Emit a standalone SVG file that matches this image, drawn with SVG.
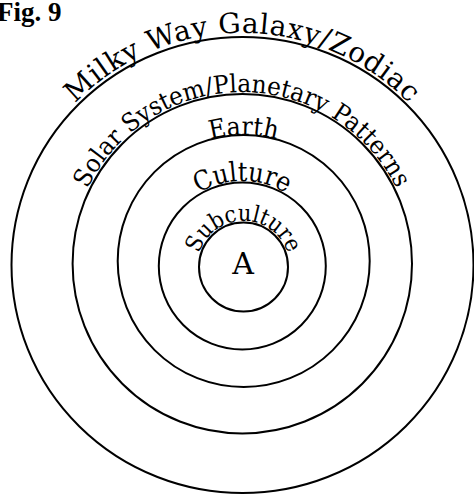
<svg xmlns="http://www.w3.org/2000/svg" xmlns:xlink="http://www.w3.org/1999/xlink" width="474" height="495" viewBox="0 0 474 495">
  <style>
    .ring { fill: none; stroke: #000; stroke-width: 2; }
    .lbl { font-family: "DejaVu Serif", "Liberation Serif", serif; fill: #000; }
    .title { font-family: "Liberation Serif", "Times New Roman", serif; font-weight: bold; fill: #000; }
  </style>
  <defs>
    <path id="p-milky" d="M 63.5,116.2 A 233 233 0 0 1 420.5,116.2"/>
    <path id="p-solar" d="M 80.4,205.2 A 172 172 0 0 1 403.6,205.2"/>
    <path id="p-earth" d="M 162.7,164.5 A 126 126 0 0 1 324.7,164.5"/>
    <path id="p-culture" d="M 177.2,211.4 A 85 85 0 0 1 307.4,211.4"/>
    <path id="p-sub" d="M 197.2,263 A 46.5 46.5 0 0 1 289.8,263"/>
  </defs>
  <rect width="474" height="495" fill="#fff"/>
  <text class="title" x="-3" y="21" font-size="27">Fig. 9</text>

  <g id="galaxy">
    <ellipse class="ring" cx="242.5" cy="265" rx="231" ry="228"/>
    <text class="lbl" font-size="28"><textPath xlink:href="#p-milky" href="#p-milky" startOffset="50%" text-anchor="middle" textLength="372" lengthAdjust="spacing">Milky Way Galaxy/Zodiac</textPath></text>
  </g>
  <g id="solar-system">
    <circle class="ring" cx="242.3" cy="263.7" r="169.7"/>
    <text class="lbl" font-size="25"><textPath xlink:href="#p-solar" href="#p-solar" startOffset="50%" text-anchor="middle" textLength="384" lengthAdjust="spacingAndGlyphs">Solar System/Planetary Patterns</textPath></text>
  </g>
  <g id="earth">
    <circle class="ring" cx="243.7" cy="261" r="126"/>
    <text class="lbl" font-size="26"><textPath xlink:href="#p-earth" href="#p-earth" startOffset="50%" text-anchor="middle" textLength="67" lengthAdjust="spacingAndGlyphs">Earth</textPath></text>
  </g>
  <g id="culture">
    <circle class="ring" cx="242.3" cy="266" r="83.5"/>
    <text class="lbl" font-size="27"><textPath xlink:href="#p-culture" href="#p-culture" startOffset="50%" text-anchor="middle" textLength="92" lengthAdjust="spacingAndGlyphs">Culture</textPath></text>
  </g>
  <g id="subculture">
    <circle class="ring" cx="243.5" cy="267" r="44.5"/>
    <text class="lbl" font-size="23"><textPath xlink:href="#p-sub" href="#p-sub" startOffset="50%" text-anchor="middle" textLength="118" lengthAdjust="spacingAndGlyphs">Subculture</textPath></text>
  </g>
  <g id="individual-a">
    <text class="lbl" x="243" y="274" font-size="30" text-anchor="middle">A</text>
  </g>
</svg>
